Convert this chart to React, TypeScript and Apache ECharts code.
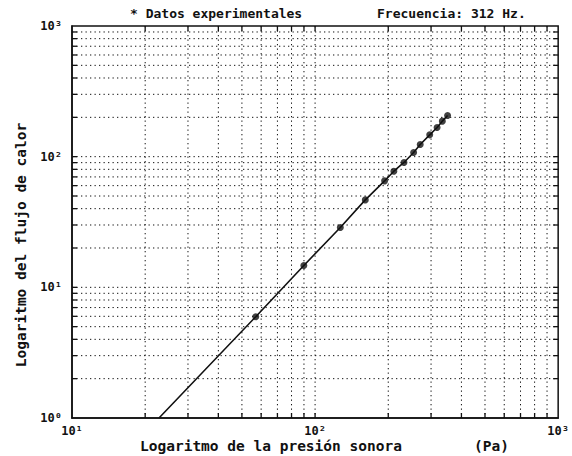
import React, { useEffect, useRef } from "react";
import * as echarts from "echarts";

// Measured points: sound pressure (Pa) vs. heat flux
const pressure = [57.0, 89.9, 127, 160.9, 193.2, 210.9, 232.1, 254.3, 270.7, 296.2, 317.6, 333.8, 350.8];
const heatFlux = [5.96, 14.7, 28.7, 46.7, 65.3, 77.4, 90.3, 107.7, 124, 146.9, 167.3, 187, 206.8];
// Where the fitted line leaves the bottom of the frame
const lineStart: [number, number] = [22.8, 1];

// Logarithmic grid positions
const xGridValues = [20, 30, 40, 50, 60, 70, 80, 90, 100, 200, 300, 400, 500, 600, 700, 800, 900];
const yGridValues = [2, 3, 4, 5, 6, 7, 8, 9, 10, 20, 30, 40, 50, 60, 70, 80, 90, 100, 200, 300, 400, 500, 600, 700, 800, 900];
const superscripts = ["⁰", "¹", "²", "³"];

const titleLeft = "* Datos experimentales";
const titleRight = "Frecuencia: 312 Hz.";
const xName = "Logaritmo de la presión sonora";
const xUnit = "(Pa)";
const yName = "Logaritmo del flujo de calor";

const FONT = "'DejaVu Sans Mono', monospace";
const INK = "#111";

export default function App() {
  const ref = useRef<HTMLDivElement>(null);

  useEffect(() => {
    if (!ref.current) return;
    const chart = echarts.init(ref.current, undefined, { renderer: "svg" });

    const logLabel = (v: number) => "10" + superscripts[Math.round(Math.log10(v))];

    const gridX = (params: any, api: any) => {
      const cs = params.coordSys;
      const p = api.coord([api.value(0), 1]);
      const top = cs.y;
      const bottom = cs.y + cs.height;
      return {
        type: "group",
        children: [
          { type: "line", shape: { x1: p[0], y1: top, x2: p[0], y2: bottom }, style: { stroke: INK, lineWidth: 1, lineDash: [1.3, 3.2] } },
          { type: "line", shape: { x1: p[0], y1: bottom, x2: p[0], y2: bottom - 5 }, style: { stroke: INK, lineWidth: 1.3 } },
          { type: "line", shape: { x1: p[0], y1: top, x2: p[0], y2: top + 5 }, style: { stroke: INK, lineWidth: 1.3 } },
        ],
      };
    };

    const gridY = (params: any, api: any) => {
      const cs = params.coordSys;
      const p = api.coord([10, api.value(1)]);
      const left = cs.x;
      const right = cs.x + cs.width;
      return {
        type: "group",
        children: [
          { type: "line", shape: { x1: left, y1: p[1], x2: right, y2: p[1] }, style: { stroke: INK, lineWidth: 1, lineDash: [1.3, 3.2] } },
          { type: "line", shape: { x1: left, y1: p[1], x2: left + 5, y2: p[1] }, style: { stroke: INK, lineWidth: 1.3 } },
          { type: "line", shape: { x1: right, y1: p[1], x2: right - 5, y2: p[1] }, style: { stroke: INK, lineWidth: 1.3 } },
        ],
      };
    };

    const points = pressure.map((x, i) => [x, heatFlux[i]]);

    chart.setOption({
      animation: false,
      backgroundColor: "#fff",
      grid: { left: 72, right: 9, top: 26, bottom: 38, show: true, borderColor: INK, borderWidth: 1.5, backgroundColor: "transparent" },
      xAxis: {
        type: "log",
        logBase: 10,
        min: 10,
        max: 1000,
        axisLine: { show: true, lineStyle: { color: INK, width: 1.5 } },
        axisTick: { show: false },
        splitLine: { show: false },
        axisLabel: { formatter: logLabel, color: INK, fontFamily: FONT, fontWeight: "bold", fontSize: 12, margin: 7 },
      },
      yAxis: {
        type: "log",
        logBase: 10,
        min: 1,
        max: 1000,
        axisLine: { show: true, lineStyle: { color: INK, width: 1.5 } },
        axisTick: { show: false },
        splitLine: { show: false },
        axisLabel: { formatter: logLabel, color: INK, fontFamily: FONT, fontWeight: "bold", fontSize: 12, margin: 10 },
      },
      graphic: [
        { type: "text", left: 130, top: 7, style: { text: titleLeft, fill: INK, font: `bold 13px ${FONT}` } },
        { type: "text", left: 377, top: 7, style: { text: titleRight, fill: INK, font: `bold 13px ${FONT}` } },
        { type: "text", left: 140, top: 438, style: { text: xName, fill: INK, font: `bold 14.5px ${FONT}` } },
        { type: "text", left: 474, top: 438, style: { text: xUnit, fill: INK, font: `bold 14.5px ${FONT}` } },
        {
          type: "text",
          x: 21,
          y: 245,
          rotation: Math.PI / 2,
          style: { text: yName, fill: INK, font: `bold 14.5px ${FONT}`, align: "center", verticalAlign: "middle" },
        },
      ],
      series: [
        { type: "custom", renderItem: gridX, data: xGridValues.map((v) => [v, 1]), silent: true, clip: false, z: 1 },
        { type: "custom", renderItem: gridY, data: yGridValues.map((v) => [10, v]), silent: true, clip: false, z: 1 },
        {
          type: "line",
          data: [lineStart, ...points],
          showSymbol: false,
          symbol: "none",
          lineStyle: { color: INK, width: 1.6 },
          z: 3,
        },
        {
          type: "scatter",
          data: points,
          symbol: "circle",
          symbolSize: 7,
          itemStyle: { color: INK },
          z: 4,
        },
      ],
    });

    return () => chart.dispose();
  }, []);

  return <div ref={ref} style={{ position: "fixed", left: 0, top: 0, width: 572, height: 456 }} />;
}
